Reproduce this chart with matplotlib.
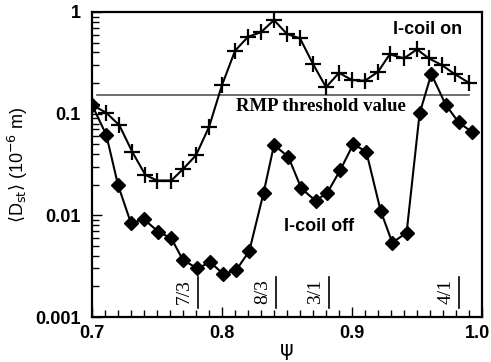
import numpy as np
import matplotlib
matplotlib.use("Agg")
import matplotlib.pyplot as plt
import matplotlib.transforms as mtransforms
from matplotlib.ticker import MultipleLocator, LogLocator, NullFormatter, FixedLocator, FixedFormatter

sans = ['Liberation Sans', 'DejaVu Sans']
serif = ['Liberation Serif', 'DejaVu Serif']

# I-coil on (crosses)
psi_on = [0.700, 0.711, 0.721, 0.731, 0.741, 0.750, 0.761, 0.770, 0.780, 0.790,
          0.800, 0.810, 0.820, 0.830, 0.840, 0.850, 0.860, 0.870, 0.880,
          0.890, 0.900, 0.910, 0.920, 0.929, 0.940, 0.950, 0.959, 0.969, 0.979, 0.990]
d_on = [0.122, 0.102, 0.077, 0.042, 0.025, 0.022, 0.022, 0.0285, 0.039, 0.074,
        0.191, 0.415, 0.57, 0.633, 0.832, 0.607, 0.55, 0.308, 0.182,
        0.252, 0.214, 0.211, 0.258, 0.383, 0.35, 0.429, 0.35, 0.301, 0.245, 0.201]

# I-coil off (diamonds)
psi_off = [0.700, 0.711, 0.720, 0.730, 0.740, 0.751, 0.761, 0.770, 0.781, 0.791,
           0.801, 0.811, 0.821, 0.832, 0.840, 0.851, 0.861, 0.872, 0.881, 0.891,
           0.901, 0.911, 0.922, 0.931, 0.942, 0.952, 0.961, 0.972, 0.982, 0.992]
d_off = [0.122, 0.0617, 0.0199, 0.00834, 0.00914, 0.0069, 0.00594, 0.00363, 0.00301, 0.00345,
         0.00265, 0.0029, 0.00446, 0.0167, 0.0491, 0.0377, 0.0184, 0.0139, 0.0167, 0.0279,
         0.0502, 0.0422, 0.0111, 0.00538, 0.00675, 0.1007, 0.245, 0.123, 0.082, 0.0664]

threshold = 0.152

# rational surfaces
modes = ['7/3', '8/3', '3/1', '4/1']
mode_psi = [0.7813, 0.8413, 0.882, 0.9823]

fig = plt.figure(figsize=(4.91, 3.62), dpi=100)
ax = fig.add_axes([0.1874, 0.1243, 0.7943, 0.8426])
ax.set_yscale('log')
ax.set_xlim(0.7, 1.0)
ax.set_ylim(0.001, 1)

ax.plot([0.704, 0.99], [threshold, threshold], color='#555555', lw=1.2)

ax.plot(psi_on, d_on, color='black', lw=1.5, marker='+', ms=11, mew=1.6)
ax.plot(psi_off, d_off, color='black', lw=1.5, marker='D', ms=7, mfc='black', mec='black')

for m, p in zip(modes, mode_psi):
    ax.plot([p, p], [0.00123, 0.0025], color='black', lw=1.2)
    ax.text(p - 0.0035, 0.00178, m, rotation=90, ha='right', va='center',
            family=serif, size=14)

ax.text(0.8105, 0.118, 'RMP threshold value', ha='left', va='center',
        family=serif, weight='bold', size=13.5)
ax.text(0.958, 0.68, 'I-coil on', ha='center', va='center', family=sans,
        weight='bold', size=13, bbox=dict(facecolor='white', edgecolor='none', pad=1))
ax.text(0.8746, 0.0077, 'I-coil off', ha='center', va='center', family=sans,
        weight='bold', size=13, bbox=dict(facecolor='white', edgecolor='none', pad=1))

ax.xaxis.set_major_locator(FixedLocator([0.7, 0.8, 0.9, 1.0]))
ax.xaxis.set_major_formatter(FixedFormatter(['0.7', '0.8', '0.9', '1.0']))
ax.xaxis.set_minor_locator(MultipleLocator(0.01))
ax.yaxis.set_major_locator(FixedLocator([0.001, 0.01, 0.1, 1]))
ax.yaxis.set_major_formatter(FixedFormatter(['0.001', '0.01', '0.1', '1']))
ax.yaxis.set_minor_locator(LogLocator(base=10, subs=np.arange(2, 10)))
ax.yaxis.set_minor_formatter(NullFormatter())
ax.tick_params(which='both', direction='in', top=False, right=False, width=1)
ax.tick_params(which='major', length=7, labelsize=13)
ax.tick_params(axis='x', which='major', pad=6)
ax.tick_params(axis='y', which='major', pad=8)
ax.tick_params(which='minor', length=5)
for lab in ax.get_xticklabels() + ax.get_yticklabels():
    lab.set_family(sans)
    lab.set_weight('bold')
for s in ax.spines.values():
    s.set_linewidth(1.6)

# nudge the last x label so it stays inside the picture
last = ax.get_xticklabels()[-1]
last.set_transform(last.get_transform() + mtransforms.ScaledTranslation(-5 / 100, 0, fig.dpi_scale_trans))

ax.set_xlabel('ψ', family=['DejaVu Sans'], size=15, labelpad=-2)
ax.set_ylabel(r'$\langle$D$_{\rm st}\rangle$ (10$^{-6}$ m)', family=sans, size=13, labelpad=4)

fig.savefig('out.png', dpi=100)
